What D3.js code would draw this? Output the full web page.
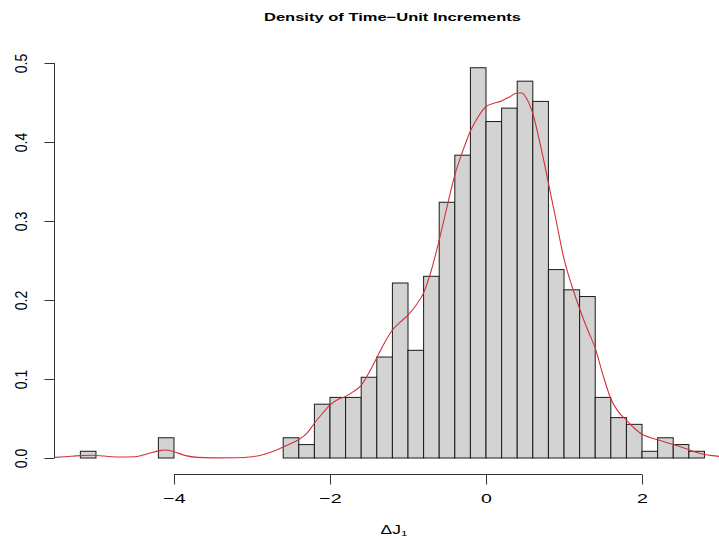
<!DOCTYPE html>
<html><head><meta charset="utf-8">
<script src="https://cdn.jsdelivr.net/npm/d3@7"></script>
<style>body{margin:0;background:#fff} svg{display:block}</style>
</head><body><svg id="c" width="719" height="539"></svg>
<script>
// ---- data ----
const breaks = [-5.2,-5.0,-4.8,-4.6,-4.4,-4.2,-4.0,-3.8,-3.6,-3.4,-3.2,-3.0,-2.8,-2.6,-2.4,-2.2,-2.0,-1.8,-1.6,-1.4,-1.2,-1.0,-0.8,-0.6,-0.4,-0.2,0.0,0.2,0.4,0.6,0.8,1.0,1.2,1.4,1.6,1.8,2.0,2.2,2.4,2.6,2.8];
const densities = [0.0085,0,0,0,0,0.0256,0,0,0,0,0,0,0,0.0256,0.0170,0.0681,0.0767,0.0767,0.1022,0.1278,0.2215,0.1363,0.2300,0.3237,0.3833,0.4940,0.4259,0.4429,0.4770,0.4514,0.2385,0.2129,0.2044,0.0767,0.0511,0.0426,0.0085,0.0256,0.0170,0.0085];
const curveX = [-5.55,-5.4,-5.2,-5.05,-4.9,-4.7,-4.5,-4.35,-4.2,-4.12,-4.0,-3.85,-3.7,-3.5,-3.2,-3.0,-2.85,-2.7,-2.55,-2.4,-2.3,-2.2,-2.1,-2.0,-1.9,-1.8,-1.7,-1.6,-1.5,-1.4,-1.3,-1.2,-1.1,-1.0,-0.9,-0.8,-0.7,-0.6,-0.5,-0.4,-0.3,-0.2,-0.1,0.0,0.1,0.2,0.3,0.4,0.46,0.52,0.6,0.7,0.8,0.9,1.0,1.1,1.2,1.3,1.4,1.5,1.6,1.7,1.8,1.9,2.0,2.1,2.2,2.3,2.4,2.5,2.6,2.7,2.8,2.9,3.0,3.1];
const curveY = [0.0006,0.0015,0.003,0.0035,0.0025,0.0012,0.0015,0.005,0.009,0.0102,0.008,0.003,0.0008,0.0002,0.0003,0.0015,0.0045,0.0095,0.016,0.0235,0.031,0.044,0.056,0.067,0.074,0.078,0.084,0.092,0.108,0.127,0.146,0.162,0.172,0.181,0.193,0.209,0.238,0.276,0.318,0.358,0.388,0.414,0.432,0.445,0.449,0.452,0.457,0.462,0.462,0.455,0.436,0.395,0.348,0.300,0.252,0.218,0.189,0.163,0.139,0.105,0.075,0.058,0.048,0.038,0.030,0.026,0.023,0.020,0.017,0.014,0.0105,0.007,0.0045,0.003,0.002,0.0012];
const xTicks = [-4,-2,0,2];
const yTicks = [0,0.1,0.2,0.3,0.4,0.5];
const titleText = "Density of Time\u2212Unit Increments";

// ---- drawing ----
const svg = d3.select("#c");
const font = "'Liberation Sans', Arial, Helvetica, sans-serif";
const x = d3.scaleLinear().domain([-5.52, 3.12]).range([55.4, 729.4]);
const y = d3.scaleLinear().domain([0, 0.5]).range([458, 63]);

svg.append("defs").append("clipPath").attr("id","plotclip")
  .append("rect").attr("x",55).attr("y",0).attr("width",719-55).attr("height",475);

const plot = svg.append("g").attr("clip-path","url(#plotclip)");

const bins = densities.map((d,i)=>({x0:breaks[i], x1:breaks[i+1], d}));
plot.selectAll("rect.bar").data(bins).enter().append("rect")
  .attr("class","bar")
  .attr("x", b=>x(b.x0)).attr("width", b=>x(b.x1)-x(b.x0))
  .attr("y", b=>y(b.d)).attr("height", b=>y(0)-y(b.d))
  .attr("fill","#d3d3d3").attr("stroke","#1a1a1a").attr("stroke-width",1);

const line = d3.line().x(d=>x(d[0])).y(d=>y(d[1])).curve(d3.curveMonotoneX);
plot.append("path").datum(curveX.map((v,i)=>[v,curveY[i]]))
  .attr("d", line).attr("fill","none").attr("stroke","#d3323c").attr("stroke-width",1.1);

// x axis
const xAxisG = svg.append("g").attr("transform","translate(0,474.5)")
  .call(d3.axisBottom(x).tickValues(xTicks).tickSize(10).tickSizeOuter(0)
    .tickFormat(d=> d<0 ? "\u2212"+Math.abs(d) : String(d)));
xAxisG.select(".domain").remove();
xAxisG.append("line").attr("x1",x(xTicks[0])).attr("x2",x(xTicks[xTicks.length-1]))
  .attr("y1",0).attr("y2",0).attr("stroke","#333").attr("stroke-width",1);
xAxisG.selectAll(".tick line").attr("stroke","#333");
xAxisG.selectAll(".tick text").attr("y",0).attr("dy",0)
  .attr("transform","translate(0,28.5) scale(1.45,1)")
  .attr("font-family",font).attr("font-size",13.5).attr("fill","#000");

// y axis
const yAxisG = svg.append("g").attr("transform","translate(54.5,0)")
  .call(d3.axisLeft(y).tickValues(yTicks).tickSize(10).tickSizeOuter(0).tickFormat(d3.format(".1f")));
yAxisG.select(".domain").remove();
yAxisG.append("line").attr("x1",0).attr("x2",0).attr("y1",y(0.5)).attr("y2",y(0))
  .attr("stroke","#333").attr("stroke-width",1);
yAxisG.selectAll(".tick line").attr("stroke","#333");
yAxisG.selectAll(".tick text").attr("x",0).attr("dy",0).attr("y",-27.6/1.15)
  .attr("transform","rotate(-90) scale(1,1.15)")
  .attr("text-anchor","middle")
  .attr("font-family",font).attr("font-size",14).attr("fill","#000");

// title
svg.append("text").attr("x",392.5).attr("y",20.5).attr("text-anchor","middle")
  .attr("font-family",font).attr("font-weight","bold").attr("font-size",11)
  .attr("textLength",257).attr("lengthAdjust","spacingAndGlyphs")
  .text(titleText);

// x axis title
const xt = svg.append("text").attr("transform","translate(394,534) scale(1.45,1)")
  .attr("text-anchor","middle").attr("font-family",font).attr("font-size",12).attr("fill","#000");
xt.append("tspan").text("\u0394J");
xt.append("tspan").attr("font-size",8).attr("dy",2.2).text("1");
</script>
</body></html>
